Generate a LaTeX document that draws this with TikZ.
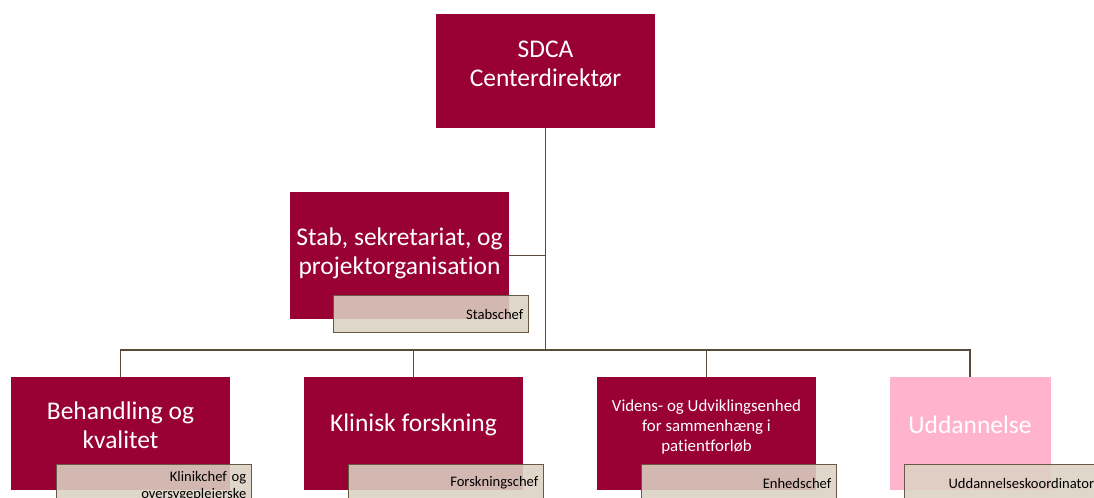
\documentclass[tikz,border=0pt]{standalone}
\usepackage{fontspec}
\setmainfont{Carlito}[Ligatures=NoCommon]
\usepackage{tikz}
\usetikzlibrary{positioning}
\usepackage{xcolor}

\definecolor{sdcared}{HTML}{990033}
\definecolor{sdcapink}{HTML}{FFB3CC}
\definecolor{chefbeige}{HTML}{DCD2C4}
\definecolor{chefline}{HTML}{6B5843}
\definecolor{linkline}{HTML}{5A4B3B}

\tikzset{
  unit/.style={rectangle, fill=sdcared, inner sep=0pt, minimum width=4.38cm},
  unittext/.style={text=white, inner sep=0pt, align=center, font=\fontsize{14.5}{16.5}\selectfont},
  chef/.style={rectangle, draw=chefline, line width=0.6pt, fill=chefbeige, fill opacity=0.88,
    text opacity=1, text=black, minimum width=3.9cm, minimum height=0.74cm, inner xsep=3pt,
    inner ysep=0pt, text width=3.69cm, align=right, font=\fontsize{8.3}{9.6}\selectfont},
  link/.style={draw=linkline, line width=0.75pt}
}

\begin{document}
\begin{tikzpicture}[x=0.02cm, y=-0.02cm]
                \useasboundingbox (0,0) rectangle (1094,497);
                \clip (0,0) rectangle (1094,497);
                % boxes
                \node[unit, minimum height=2.28cm] (sdca) at (545.5,71) {};
                \node[unit, minimum height=2.54cm] (stab) at (399.5,255.5) {};
                \node[unit, anchor=north, minimum height=2.26cm] (behandling) at (120.5,377) {};
                \node[unit, anchor=north, minimum height=2.26cm] (forskning) at (413.5,377) {};
                \node[unit, anchor=north, minimum height=2.26cm] (vidensenhed) at (706.5,377) {};
                \node[unit, anchor=north, minimum height=2.26cm, minimum width=3.22cm, fill=sdcapink] (uddannelse) at (970,377) {};
                % texts
                \node[unittext] (sdcatext) at ([yshift=3.6pt]sdca.center) {SDCA\\Centerdirektør};
                \node[unittext] (stabtext) at ([yshift=1.5pt]stab.center) {Stab, sekretariat, og\\projektorganisation};
                \node[unittext] (behandlingtext) at (120.5,425) {Behandling og\\kvalitet};
                \node[unittext] (forskningtext) at (413.5,425) {Klinisk forskning};
                \node[unittext, font=\fontsize{9.6}{11.3}\selectfont] (videnstext) at (706.5,427) {Videns- og Udviklingsenhed\\for sammenhæng i\\patientforløb};
                \node[unittext] (uddannelsetext) at (970,425) {Uddannelse};
                % lines
                \coordinate (hub) at (545.5,350);
                \draw[link] (sdca.south) -- (hub);
                \draw[link] (stab.east) -- (stab.east -| sdca.south);
                \draw[link] (behandling.north) |- (hub) -| (uddannelse.north);
                \draw[link] (forskning.north) -- (forskning.north |- hub);
                \draw[link] (vidensenhed.north) -- (vidensenhed.north |- hub);
                % chefs
                \node[chef, anchor=north west] (stabschef) at (333,295) {Stabschef};
                \node[chef, anchor=north west, minimum height=0.88cm] (klinikchef) at (56,464) {Klinikchef og\\oversygeplejerske};
                \node[chef, anchor=north west] (forskningschef) at (348,464) {Forskningschef};
                \node[chef, anchor=north west] (enhedschef) at (641,464) {Enhedschef};
                \node[chef, anchor=north west] (koordinator) at (904,464) {Uddannelseskoordinator};
            \end{tikzpicture}
\end{document}
